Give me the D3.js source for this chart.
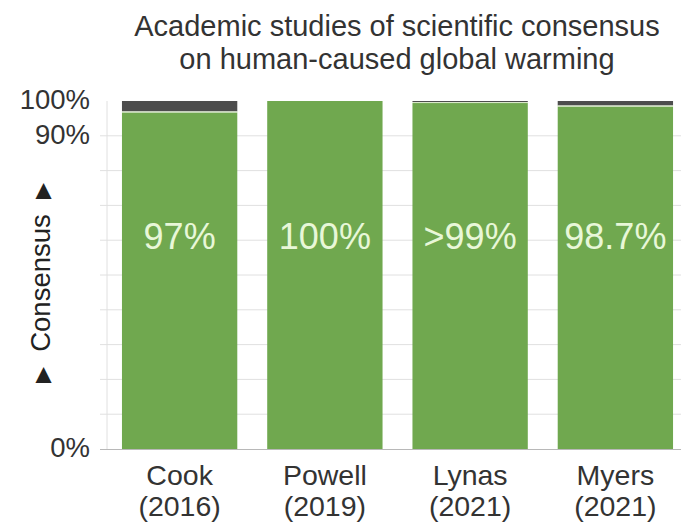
<!DOCTYPE html>
<html>
<head>
<meta charset="utf-8">
<script src="https://cdn.jsdelivr.net/npm/d3@7"></script>
<style>
  body { margin: 0; background: #fff; }
  svg { font-family: "Liberation Sans", Arial, sans-serif; }
</style>
</head>
<body>
<svg></svg>
<script>
const studies = ["Cook", "Powell", "Lynas", "Myers"];
const years = ["(2016)", "(2019)", "(2021)", "(2021)"];
const consensus = [97, 100, 99.7, 98.7];
const labels = ["97%", "100%", ">99%", "98.7%"];
const yTicks = [0, 90, 100];

const width = 681;
const height = 525;
const plotLeft = 107;
const plotRight = 688;
const plotTop = 101;
const plotBottom = 449;

const svg = d3.select("svg").attr("width", width).attr("height", height);

const xScale = d3.scaleBand()
  .domain(studies)
  .range([plotLeft, plotRight])
  .paddingInner(0.206)
  .paddingOuter(0.103);

const yScale = d3.scaleLinear().domain([0, 100]).range([plotBottom, plotTop]);

// grid
svg.append("g")
  .selectAll("line")
  .data(d3.range(10, 100, 10))
  .enter()
  .append("line")
  .attr("x1", plotLeft - 7)
  .attr("x2", width)
  .attr("y1", (d) => yScale(d))
  .attr("y2", (d) => yScale(d))
  .attr("stroke", "#e0e0e0")
  .attr("stroke-width", 1);

svg.append("line")
  .attr("x1", plotLeft).attr("x2", plotLeft)
  .attr("y1", plotTop).attr("y2", plotBottom)
  .attr("stroke", "#e0e0e0");

// bars
const bars = svg.append("g");
bars.selectAll("rect.rest")
  .data(studies)
  .enter()
  .append("rect")
  .attr("x", (d) => xScale(d))
  .attr("width", xScale.bandwidth())
  .attr("y", yScale(100))
  .attr("height", (d, i) => yScale(consensus[i]) - yScale(100))
  .attr("fill", "#4d4d4d");

bars.selectAll("rect.main")
  .data(studies)
  .enter()
  .append("rect")
  .attr("x", (d) => xScale(d))
  .attr("width", xScale.bandwidth())
  .attr("y", (d, i) => yScale(consensus[i]) + (consensus[i] < 100 ? 1 : 0))
  .attr("height", (d, i) => plotBottom - yScale(consensus[i]) - (consensus[i] < 100 ? 1 : 0))
  .attr("fill", "#70a84f");

bars.selectAll("line.sep")
  .data(studies.filter((d, i) => consensus[i] < 100))
  .enter()
  .append("line")
  .attr("x1", (d) => xScale(d))
  .attr("x2", (d) => xScale(d) + xScale.bandwidth())
  .attr("y1", (d) => yScale(consensus[studies.indexOf(d)]) + 0.5)
  .attr("y2", (d) => yScale(consensus[studies.indexOf(d)]) + 0.5)
  .attr("stroke", "#d8e8c8")
  .attr("stroke-width", 1);

// value labels
svg.append("g")
  .selectAll("text")
  .data(studies)
  .enter()
  .append("text")
  .attr("x", (d) => xScale(d) + xScale.bandwidth() / 2)
  .attr("y", 249)
  .attr("text-anchor", "middle")
  .attr("font-size", 36)
  .attr("fill", "#e8f7d8")
  .text((d, i) => labels[i]);

// baseline
svg.append("line")
  .attr("x1", plotLeft - 7).attr("x2", width)
  .attr("y1", plotBottom + 0.5).attr("y2", plotBottom + 0.5)
  .attr("stroke", "#b8b8b8");

// y tick labels
svg.append("g")
  .selectAll("text")
  .data(yTicks)
  .enter()
  .append("text")
  .attr("x", 90)
  .attr("y", (d) => yScale(d) + 8)
  .attr("text-anchor", "end")
  .attr("font-size", 27.5)
  .attr("fill", "#333")
  .text((d) => d + "%");

// y axis title
const yTitle = svg.append("text")
  .attr("transform", "translate(50, 283) rotate(-90)")
  .attr("text-anchor", "middle")
  .attr("font-size", 27.5)
  .attr("fill", "#222")
  .attr("xml:space", "preserve");
yTitle.append("tspan").attr("font-size", 21).attr("dy", -1).text("\u25B6");
yTitle.append("tspan").attr("dy", 1).text("\u00A0\u00A0Consensus\u00A0\u00A0");
yTitle.append("tspan").attr("font-size", 21).attr("dy", -1).text("\u25B6");

// x labels
const xl = svg.append("g")
  .selectAll("text")
  .data(studies)
  .enter()
  .append("text")
  .attr("text-anchor", "middle")
  .attr("font-size", 28.5)
  .attr("fill", "#333");
xl.append("tspan")
  .attr("x", (d) => xScale(d) + xScale.bandwidth() / 2)
  .attr("y", 485)
  .text((d) => d);
xl.append("tspan")
  .attr("x", (d) => xScale(d) + xScale.bandwidth() / 2)
  .attr("y", 516)
  .text((d, i) => years[i]);

// title
const title = svg.append("text")
  .attr("text-anchor", "middle")
  .attr("font-size", 29)
  .attr("fill", "#333");
title.append("tspan").attr("x", 397).attr("y", 36)
  .text("Academic studies of scientific consensus");
title.append("tspan").attr("x", 397).attr("y", 69)
  .text("on human-caused global warming");
</script>
</body>
</html>
